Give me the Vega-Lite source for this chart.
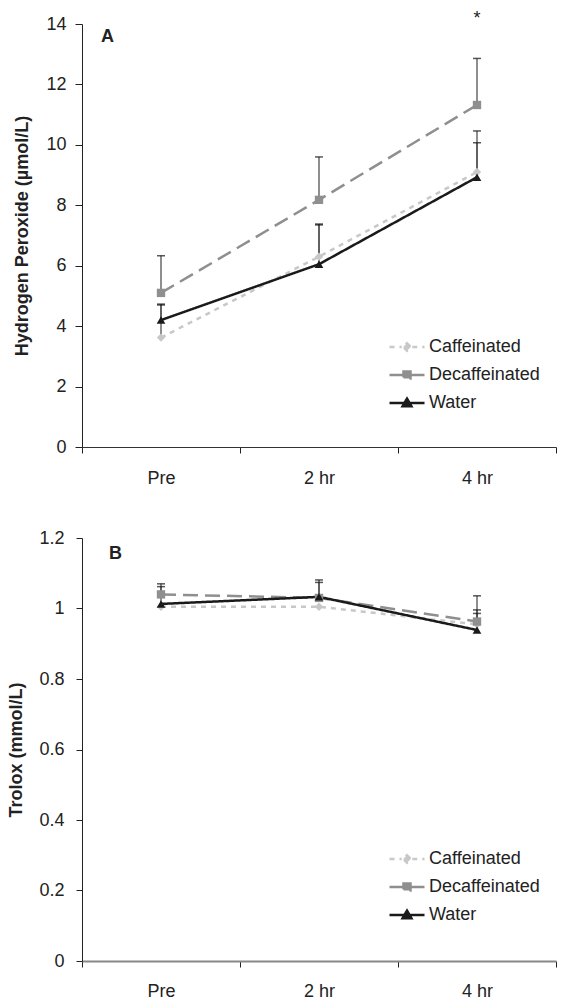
{
  "$schema": "https://vega.github.io/schema/vega-lite/v6.json",
  "padding": {"left": 7, "top": 10, "right": 5, "bottom": 0},
  "config": {
    "font": "Liberation Sans",
    "view": {"stroke": null},
    "axis": {"grid": false, "domainColor": "#222", "tickColor": "#222", "labelColor": "#222", "titleColor": "#222", "labelFontSize": 18, "titleFontSize": 18, "titleFontWeight": "bold", "labelFont": "Liberation Sans", "titleFont": "Liberation Sans"},
    "legend": {"labelFontSize": 18, "labelColor": "#222", "labelFont": "Liberation Sans"}
  },
  "datasets": {
    "h2o2": [
      {"time": "Pre", "group": "Caffeinated", "mean": 3.62, "upper": 4.7},
      {"time": "Pre", "group": "Decaffeinated", "mean": 5.1, "upper": 6.33},
      {"time": "Pre", "group": "Water", "mean": 4.2, "upper": 4.73},
      {"time": "2 hr", "group": "Caffeinated", "mean": 6.3, "upper": 7.35},
      {"time": "2 hr", "group": "Decaffeinated", "mean": 8.18, "upper": 9.6},
      {"time": "2 hr", "group": "Water", "mean": 6.05, "upper": 7.38},
      {"time": "4 hr", "group": "Caffeinated", "mean": 9.1, "upper": 10.46},
      {"time": "4 hr", "group": "Decaffeinated", "mean": 11.32, "upper": 12.86},
      {"time": "4 hr", "group": "Water", "mean": 8.93, "upper": 10.07}
    ],
    "trolox": [
      {"time": "Pre", "group": "Caffeinated", "mean": 1.005, "upper": null},
      {"time": "Pre", "group": "Decaffeinated", "mean": 1.04, "upper": 1.07},
      {"time": "Pre", "group": "Water", "mean": 1.013, "upper": 1.062},
      {"time": "2 hr", "group": "Caffeinated", "mean": 1.005, "upper": null},
      {"time": "2 hr", "group": "Decaffeinated", "mean": 1.03, "upper": 1.081},
      {"time": "2 hr", "group": "Water", "mean": 1.033, "upper": 1.074},
      {"time": "4 hr", "group": "Caffeinated", "mean": 0.955, "upper": 0.996},
      {"time": "4 hr", "group": "Decaffeinated", "mean": 0.963, "upper": 1.036},
      {"time": "4 hr", "group": "Water", "mean": 0.939, "upper": 0.986}
    ],
    "stars": [
      {"time": "4 hr", "value": 14.15, "label": "*"}
    ]
  },
  "spacing": 42,
  "resolve": {
    "scale": {"color": "independent", "strokeDash": "independent"},
    "legend": {"color": "independent", "strokeDash": "independent"}
  },
  "vconcat": [
    {
      "width": 474,
      "height": 423,
      "title": {"text": "A", "anchor": "start", "frame": "group", "dx": 19, "offset": -36, "fontSize": 18, "fontWeight": "bold", "color": "#222", "font": "Liberation Sans"},
      "data": {"name": "h2o2"},
      "encoding": {
        "x": {"field": "time", "type": "nominal", "sort": ["Pre", "2 hr", "4 hr"],
          "scale": {"type": "band", "paddingInner": 0, "paddingOuter": 0},
          "axis": {"title": null, "tickBand": "extent", "labelAngle": 0, "tickSize": 6, "labelPadding": 16, "domainColor": "#333"}}
      },
      "layer": [
        {
          "transform": [{"filter": "isValid(datum.upper)"}],
          "mark": {"type": "rule", "color": "#444", "strokeWidth": 1.2},
          "encoding": {
            "y": {"field": "mean", "type": "quantitative"},
            "y2": {"field": "upper"}
          }
        },
        {
          "transform": [{"filter": "isValid(datum.upper)"}],
          "mark": {"type": "tick", "color": "#111", "thickness": 1.5, "size": 8},
          "encoding": {
            "y": {"field": "upper", "type": "quantitative"}
          }
        },
        {
          "mark": {"type": "line", "strokeWidth": 2.5},
          "encoding": {
            "y": {"field": "mean", "type": "quantitative",
              "scale": {"domain": [0, 14], "nice": false},
              "axis": {"title": "Hydrogen Peroxide (µmol/L)", "values": [0, 2, 4, 6, 8, 10, 12, 14], "tickSize": 7, "labelPadding": 9, "titlePadding": 14}},
            "color": {"field": "group", "type": "nominal",
              "scale": {"domain": ["Caffeinated", "Decaffeinated", "Water"], "range": ["#c8c8c8", "#8f8f8f", "#1a1a1a"]},
              "legend": {
                "orient": "none", "legendX": 306, "legendY": 309, "title": null, "padding": 0,
                "symbolSize": 1225, "clipHeight": 28, "rowPadding": 0, "labelOffset": 3,
                "symbolStrokeWidth": 2.5,
                "encode": {"symbols": {"update": {
                  "shape": {"signal": "datum.value === 'Caffeinated' ? 'M-1,0H-0.3M0.3,0H1M0,-0.22L0.22,0L0,0.22L-0.22,0Z' : datum.value === 'Decaffeinated' ? 'M-1,0H-0.25M0.25,0H1M-0.2,-0.2H0.2V0.2H-0.2Z' : 'M-1,0H1M0,-0.25L0.25,0.18H-0.25Z'"},
                  "fill": {"signal": "datum.value === 'Caffeinated' ? '#c8c8c8' : datum.value === 'Decaffeinated' ? '#8f8f8f' : '#1a1a1a'"},
                  "stroke": {"signal": "datum.value === 'Caffeinated' ? '#c8c8c8' : datum.value === 'Decaffeinated' ? '#8f8f8f' : '#1a1a1a'"},
                  "strokeDash": {"signal": "datum.value === 'Caffeinated' ? [4, 3] : [1, 0]"},
                  "opacity": {"value": 1},
                  "fillOpacity": {"value": 1},
                  "strokeOpacity": {"value": 1}
                }}}
              }},
            "strokeDash": {"field": "group", "type": "nominal",
              "scale": {"domain": ["Caffeinated", "Decaffeinated", "Water"], "range": [[5, 5], [15, 7], [1, 0]]},
              "legend": null}
          }
        },
        {
          "transform": [{"filter": "datum.group === 'Caffeinated'"}],
          "mark": {"type": "point", "shape": "diamond", "filled": true, "opacity": 1, "color": "#c8c8c8", "size": 70},
          "encoding": {"y": {"field": "mean", "type": "quantitative"}}
        },
        {
          "transform": [{"filter": "datum.group === 'Decaffeinated'"}],
          "mark": {"type": "point", "shape": "square", "filled": true, "opacity": 1, "color": "#8f8f8f", "size": 70},
          "encoding": {"y": {"field": "mean", "type": "quantitative"}}
        },
        {
          "transform": [{"filter": "datum.group === 'Water'"}],
          "mark": {"type": "point", "shape": "triangle-up", "filled": true, "opacity": 1, "color": "#1a1a1a", "size": 75},
          "encoding": {"y": {"field": "mean", "type": "quantitative"}}
        },
        {
          "data": {"name": "stars"},
          "mark": {"type": "text", "fontSize": 18, "color": "#222"},
          "encoding": {
            "y": {"field": "value", "type": "quantitative"},
            "text": {"field": "label"}
          }
        }
      ]
    },
    {
      "width": 474,
      "height": 423,
      "title": {"text": "B", "anchor": "start", "frame": "group", "dx": 27, "offset": -34, "fontSize": 18, "fontWeight": "bold", "color": "#222", "font": "Liberation Sans"},
      "data": {"name": "trolox"},
      "encoding": {
        "x": {"field": "time", "type": "nominal", "sort": ["Pre", "2 hr", "4 hr"],
          "scale": {"type": "band", "paddingInner": 0, "paddingOuter": 0},
          "axis": {"title": null, "tickBand": "extent", "labelAngle": 0, "tickSize": 6, "labelPadding": 15, "domainColor": "#888", "domainWidth": 2}}
      },
      "layer": [
        {
          "transform": [{"filter": "isValid(datum.upper)"}],
          "mark": {"type": "rule", "color": "#444", "strokeWidth": 1.2},
          "encoding": {
            "y": {"field": "mean", "type": "quantitative"},
            "y2": {"field": "upper"}
          }
        },
        {
          "transform": [{"filter": "isValid(datum.upper)"}],
          "mark": {"type": "tick", "color": "#111", "thickness": 1.5, "size": 8},
          "encoding": {
            "y": {"field": "upper", "type": "quantitative"}
          }
        },
        {
          "mark": {"type": "line", "strokeWidth": 2.5},
          "encoding": {
            "y": {"field": "mean", "type": "quantitative",
              "scale": {"domain": [0, 1.2], "nice": false},
              "axis": {"title": "Trolox (mmol/L)", "values": [0, 0.2, 0.4, 0.6, 0.8, 1, 1.2], "format": "~g", "tickSize": 6, "labelPadding": 12, "titlePadding": 13}},
            "color": {"field": "group", "type": "nominal",
              "scale": {"domain": ["Caffeinated", "Decaffeinated", "Water"], "range": ["#c8c8c8", "#8f8f8f", "#1a1a1a"]},
              "legend": {
                "orient": "none", "legendX": 306, "legendY": 307, "title": null, "padding": 0,
                "symbolSize": 1225, "clipHeight": 28, "rowPadding": 0, "labelOffset": 3,
                "symbolStrokeWidth": 2.5,
                "encode": {"symbols": {"update": {
                  "shape": {"signal": "datum.value === 'Caffeinated' ? 'M-1,0H-0.3M0.3,0H1M0,-0.22L0.22,0L0,0.22L-0.22,0Z' : datum.value === 'Decaffeinated' ? 'M-1,0H-0.25M0.25,0H1M-0.2,-0.2H0.2V0.2H-0.2Z' : 'M-1,0H1M0,-0.25L0.25,0.18H-0.25Z'"},
                  "fill": {"signal": "datum.value === 'Caffeinated' ? '#c8c8c8' : datum.value === 'Decaffeinated' ? '#8f8f8f' : '#1a1a1a'"},
                  "stroke": {"signal": "datum.value === 'Caffeinated' ? '#c8c8c8' : datum.value === 'Decaffeinated' ? '#8f8f8f' : '#1a1a1a'"},
                  "strokeDash": {"signal": "datum.value === 'Caffeinated' ? [4, 3] : [1, 0]"},
                  "opacity": {"value": 1},
                  "fillOpacity": {"value": 1},
                  "strokeOpacity": {"value": 1}
                }}}
              }},
            "strokeDash": {"field": "group", "type": "nominal",
              "scale": {"domain": ["Caffeinated", "Decaffeinated", "Water"], "range": [[5, 5], [15, 7], [1, 0]]},
              "legend": null}
          }
        },
        {
          "transform": [{"filter": "datum.group === 'Caffeinated'"}],
          "mark": {"type": "point", "shape": "diamond", "filled": true, "opacity": 1, "color": "#c8c8c8", "size": 70},
          "encoding": {"y": {"field": "mean", "type": "quantitative"}}
        },
        {
          "transform": [{"filter": "datum.group === 'Decaffeinated'"}],
          "mark": {"type": "point", "shape": "square", "filled": true, "opacity": 1, "color": "#8f8f8f", "size": 70},
          "encoding": {"y": {"field": "mean", "type": "quantitative"}}
        },
        {
          "transform": [{"filter": "datum.group === 'Water'"}],
          "mark": {"type": "point", "shape": "triangle-up", "filled": true, "opacity": 1, "color": "#1a1a1a", "size": 75},
          "encoding": {"y": {"field": "mean", "type": "quantitative"}}
        }
      ]
    }
  ]
}
